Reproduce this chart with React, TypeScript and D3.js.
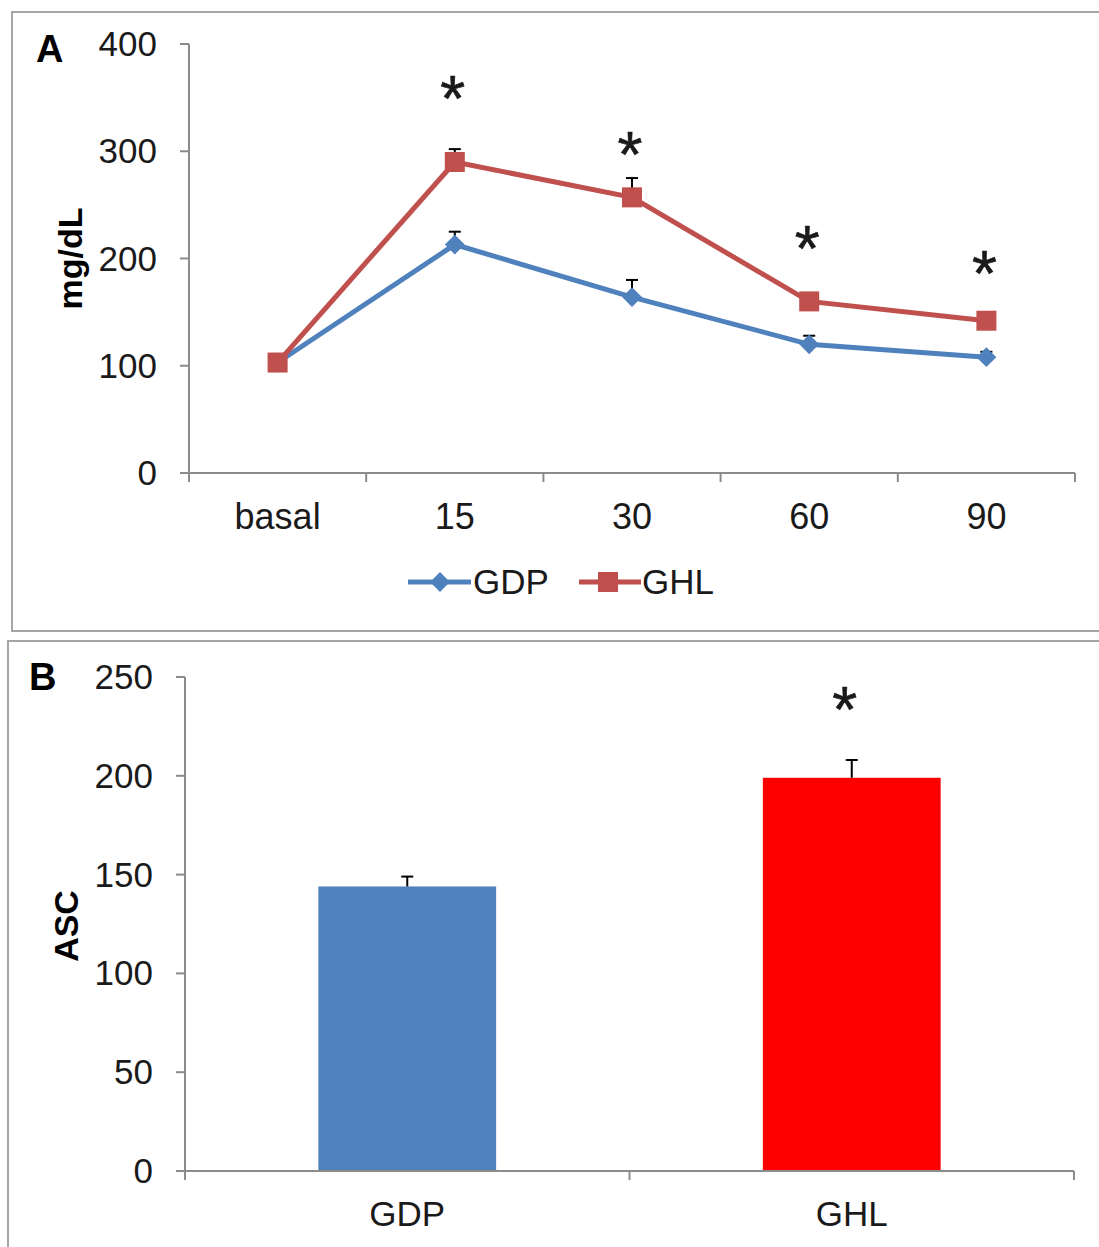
import React from 'react';
import * as d3 from 'd3';

// panel A - glucose curve
const timePoints = ['basal', '15', '30', '60', '90'];
const gdpMeans = [103, 213, 164, 120, 108];
const gdpErrs = [3, 12, 16, 8, 5];
const ghlMeans = [103, 290, 257, 160, 142];
const ghlErrs = [3, 12, 18, 6, 6];
const sigA = [null, 357, 305, 217, 194]; // asterisk centres, mg/dL
const ticksA = [0, 100, 200, 300, 400];

// panel B - area under curve
const groups = ['GDP', 'GHL'];
const ascMeans = [144, 199];
const ascErrs = [5, 9];
const sigB = [null, 238];
const ticksB = [0, 50, 100, 150, 200, 250];

const BLUE = '#4F81BD';
const RED = '#C0504D';
const BAR_RED = '#FF0000';
const AXIS = '#8c8c8c';
const TXT = '#1a1a1a';
const FONT = '"Liberation Sans", Arial, sans-serif';

const Star = ({x, y}: {x: number; y: number}) => (
  <text x={x} y={y + 31} textAnchor="middle" fontSize={64} fill={TXT} stroke={TXT} strokeWidth={0.6}>*</text>
);

const PanelA = () => {
  const x = d3.scaleBand().domain(timePoints).range([189, 1075]);
  const y = d3.scaleLinear().domain([0, 400]).range([473, 44]);
  const cx = (t: string) => (x(t) as number) + x.bandwidth() / 2;
  const line = d3.line<number>().x((_, i) => cx(timePoints[i])).y(d => y(d));
  const diamond = d3.symbol().type(d3.symbolDiamond2).size(250)();
  const sq = 20;

  const series = [
    {name: 'GDP', means: gdpMeans, errs: gdpErrs, color: BLUE},
    {name: 'GHL', means: ghlMeans, errs: ghlErrs, color: RED}
  ];

  return (
    <g>
      <rect x={12} y={12} width={1100} height={619} fill="none" stroke="#a6a6a6" strokeWidth={2} />
      <text x={36} y={62} fontSize={38} fontWeight="bold" fill="#000">A</text>

      {/* y axis */}
      <line x1={189} x2={189} y1={y(400)} y2={y(0)} stroke={AXIS} strokeWidth={2} />
      {ticksA.map(t => (
        <g key={t}>
          <line x1={180} x2={189} y1={y(t)} y2={y(t)} stroke={AXIS} strokeWidth={2} />
          <text x={157} y={y(t) + 12} textAnchor="end" fontSize={35} fill={TXT}>{t}</text>
        </g>
      ))}
      <text transform={`translate(82,${y(200)}) rotate(-90)`} textAnchor="middle" fontSize={34} fontWeight="bold" fill="#000">mg/dL</text>

      {/* x axis */}
      <line x1={180} x2={1075} y1={y(0)} y2={y(0)} stroke={AXIS} strokeWidth={2} />
      {[...timePoints.map(t => x(t) as number), 1075].map((v, i) => (
        <line key={i} x1={v} x2={v} y1={y(0)} y2={y(0) + 9} stroke={AXIS} strokeWidth={2} />
      ))}
      {timePoints.map(t => (
        <text key={t} x={cx(t)} y={529} textAnchor="middle" fontSize={36} fill={TXT}>{t}</text>
      ))}

      {/* error bars, lines, markers */}
      {series.map(s => (
        <g key={s.name}>
          {s.means.map((m, i) => (
            <g key={i}>
              <line x1={cx(timePoints[i])} x2={cx(timePoints[i])} y1={y(m)} y2={y(m + s.errs[i])} stroke="#000" strokeWidth={2} />
              <line x1={cx(timePoints[i]) - 6} x2={cx(timePoints[i]) + 6} y1={y(m + s.errs[i])} y2={y(m + s.errs[i])} stroke="#000" strokeWidth={2} />
            </g>
          ))}
          <path d={line(s.means) as string} fill="none" stroke={s.color} strokeWidth={5} />
          {s.means.map((m, i) =>
            s.name === 'GDP'
              ? <path key={i} d={diamond as string} transform={`translate(${cx(timePoints[i])},${y(m)})`} fill={s.color} />
              : <rect key={i} x={cx(timePoints[i]) - sq / 2} y={y(m) - sq / 2} width={sq} height={sq} fill={s.color} />
          )}
        </g>
      ))}

      {sigA.map((v, i) => v == null ? null : <Star key={i} x={cx(timePoints[i]) - 2} y={y(v)} />)}

      {/* legend */}
      <line x1={408} x2={471} y1={582} y2={582} stroke={BLUE} strokeWidth={5} />
      <path d={diamond as string} transform="translate(440,582)" fill={BLUE} />
      <text x={473} y={594} fontSize={35} fill={TXT}>GDP</text>
      <line x1={579} x2={641} y1={582} y2={582} stroke={RED} strokeWidth={5} />
      <rect x={598} y={572} width={sq} height={sq} fill={RED} />
      <text x={642} y={594} fontSize={35} fill={TXT}>GHL</text>
    </g>
  );
};

const PanelB = () => {
  const x = d3.scaleBand().domain(groups).range([185, 1074]).paddingInner(0.6).paddingOuter(0.3);
  const y = d3.scaleLinear().domain([0, 250]).range([1171, 677]);
  const band = d3.scaleBand().domain(groups).range([185, 1074]);
  const cx = (g: string) => (band(g) as number) + band.bandwidth() / 2;
  const colors = [BLUE, BAR_RED];

  return (
    <g>
      <rect x={8} y={641} width={1110} height={620} fill="none" stroke="#a6a6a6" strokeWidth={2} />
      <text x={29} y={690} fontSize={38} fontWeight="bold" fill="#000">B</text>

      {groups.map((g, i) => (
        <g key={g}>
          <rect x={cx(g) - x.bandwidth() / 2} y={y(ascMeans[i])} width={x.bandwidth()} height={y(0) - y(ascMeans[i])} fill={colors[i]} />
          <line x1={cx(g)} x2={cx(g)} y1={y(ascMeans[i])} y2={y(ascMeans[i] + ascErrs[i])} stroke="#000" strokeWidth={2} />
          <line x1={cx(g) - 6} x2={cx(g) + 6} y1={y(ascMeans[i] + ascErrs[i])} y2={y(ascMeans[i] + ascErrs[i])} stroke="#000" strokeWidth={2} />
          <text x={cx(g)} y={1226} textAnchor="middle" fontSize={35} fill={TXT}>{g}</text>
        </g>
      ))}
      {sigB.map((v, i) => v == null ? null : <Star key={i} x={cx(groups[i]) - 7} y={y(v)} />)}

      {/* y axis */}
      <line x1={185} x2={185} y1={y(250)} y2={y(0)} stroke={AXIS} strokeWidth={2} />
      {ticksB.map(t => (
        <g key={t}>
          <line x1={176} x2={185} y1={y(t)} y2={y(t)} stroke={AXIS} strokeWidth={2} />
          <text x={153} y={y(t) + 12} textAnchor="end" fontSize={35} fill={TXT}>{t}</text>
        </g>
      ))}
      <text transform={`translate(78,${y(124)}) rotate(-90)`} textAnchor="middle" fontSize={34} fontWeight="bold" fill="#000">ASC</text>

      {/* x axis */}
      <line x1={176} x2={1074} y1={y(0)} y2={y(0)} stroke={AXIS} strokeWidth={2} />
      {[185, band(groups[1]) as number, 1074].map((v, i) => (
        <line key={i} x1={v} x2={v} y1={y(0)} y2={y(0) + 9} stroke={AXIS} strokeWidth={2} />
      ))}
    </g>
  );
};

export default function App() {
  return (
    <svg width={1099} height={1247} style={{position: 'absolute', left: 0, top: 0, background: '#fff'}} fontFamily={FONT}>
      <rect width={1099} height={1247} fill="#fff" />
      <PanelA />
      <PanelB />
    </svg>
  );
}
